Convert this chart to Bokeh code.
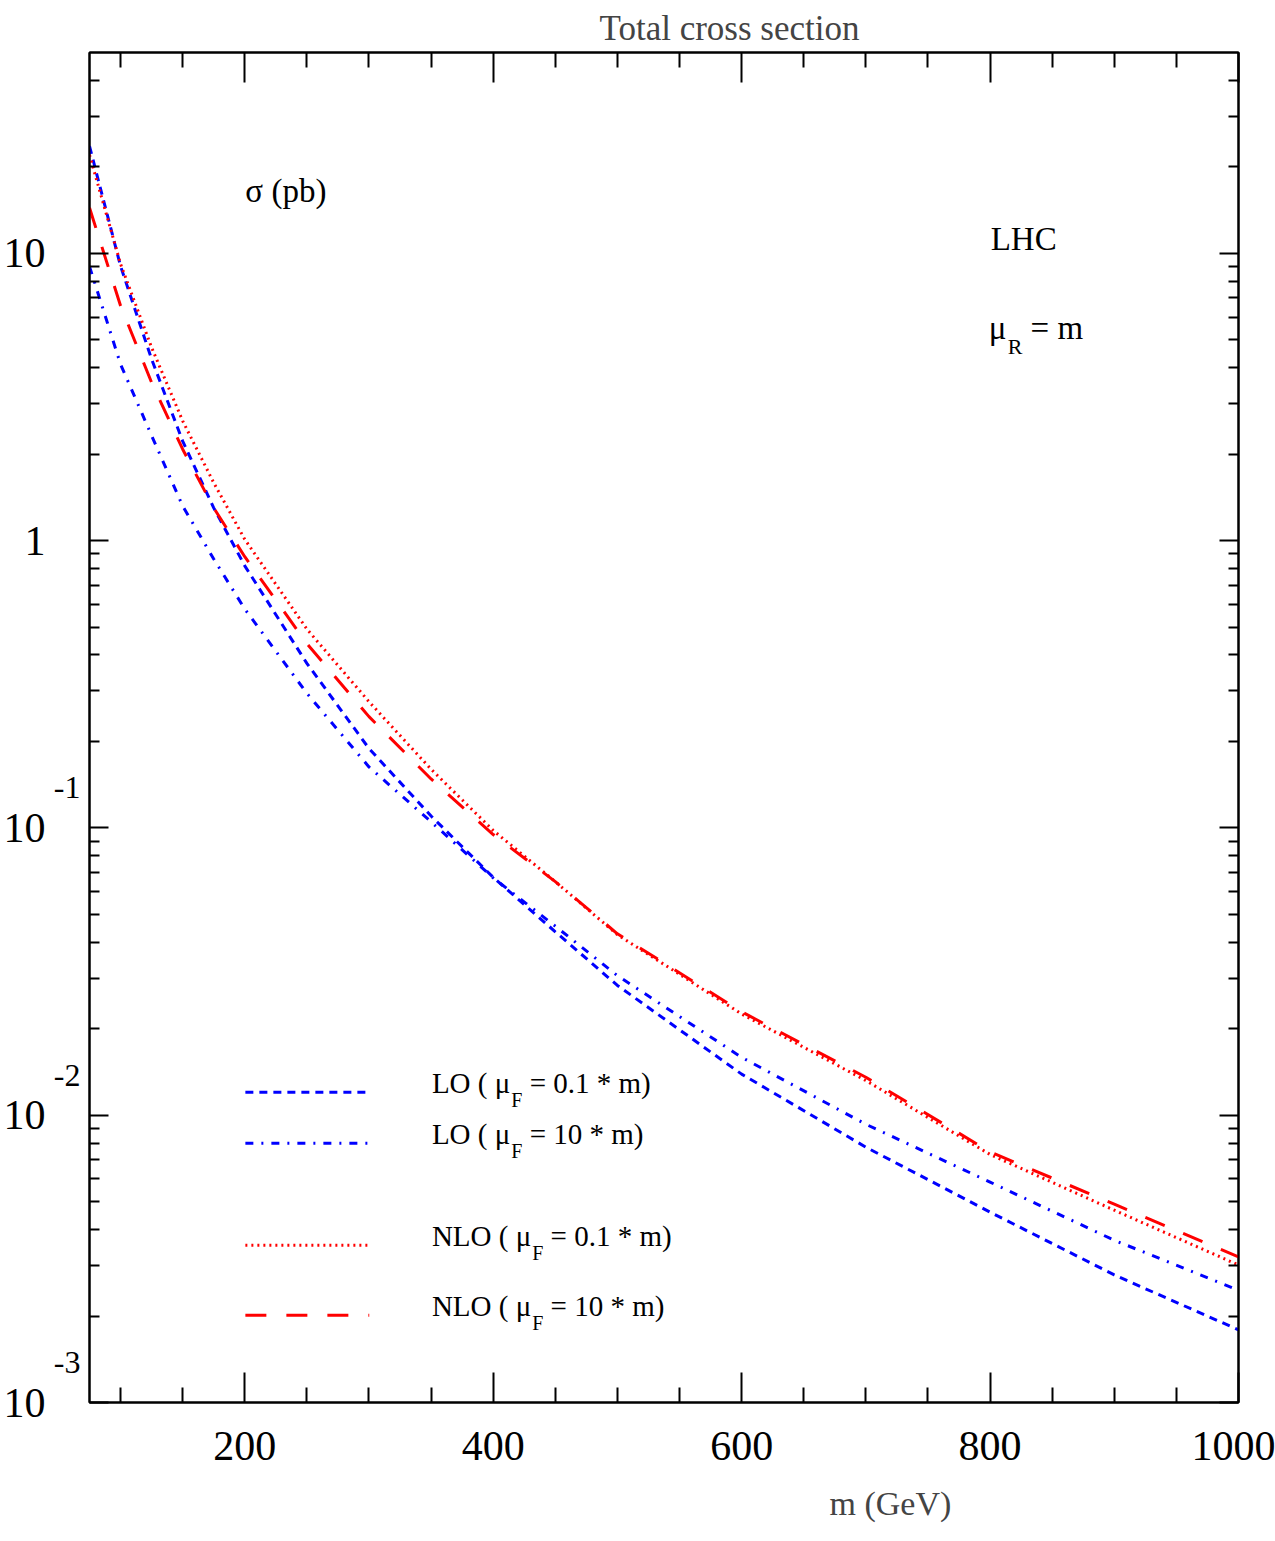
import math
from bokeh.plotting import figure
from bokeh.models import LinearAxis, LogAxis, FixedTicker, Label, Range1d, Title
from bokeh.embed import file_html
from bokeh.resources import INLINE

# ---------------- data ----------------
mass = [75, 100, 125, 150, 175, 200, 250, 300, 350, 400, 450, 500, 600, 700, 800, 900, 1000]
lo_mu01 = [23.6, 9.03, 4.28, 2.22, 1.30, 0.817, 0.374, 0.189, 0.110, 0.0673, 0.0435, 0.0283,
           0.0139, 0.00774, 0.0046, 0.00278, 0.00179]
lo_mu10 = [9.0, 4.11, 2.32, 1.32, 0.863, 0.578, 0.294, 0.163, 0.105, 0.067, 0.0455, 0.0306,
           0.0159, 0.0093, 0.00585, 0.00367, 0.00246]
nlo_mu01 = [22.0, 9.18, 4.70, 2.61, 1.59, 1.01, 0.492, 0.275, 0.160, 0.098, 0.065, 0.0425,
            0.0225, 0.0132, 0.0073, 0.00467, 0.00301]
nlo_mu10 = [14.4, 6.57, 3.55, 2.08, 1.30, 0.879, 0.438, 0.244, 0.148, 0.0948, 0.065, 0.0428,
            0.0229, 0.01355, 0.00745, 0.0049, 0.00321]

x_ticks = [200, 400, 600, 800, 1000]
x_minor_ticks = [100, 150, 250, 300, 350, 450, 500, 550, 650, 700, 750, 850, 900, 950]
y_ticks = [1e-3, 1e-2, 1e-1, 1, 10]
y_tick_base = ["10", "10", "10", "1", "10"]
y_tick_exp = ["-3", "-2", "-1", "", ""]
y_minor_mult = [2, 3, 4, 5, 6, 7, 8, 9]

legend_prefix = ["LO ( μ", "LO ( μ", "NLO ( μ", "NLO ( μ"]
legend_sub = ["F", "F", "F", "F"]
legend_suffix = ["= 0.1 * m)", "= 10 * m)", "= 0.1 * m)", "= 10 * m)"]

# ---------------- layout ----------------
X0, X1 = 75, 1000
Y0, Y1 = 1e-3, 50
W, H = 1275, 1541
BL, BR, BT, BB = 88, 37, 52, 139
FW = W - BL - BR
FH = H - BT - BB
FONT = "Liberation Serif"
DEC_PX = FH / (math.log10(Y1) - math.log10(Y0))
RAISE = 0.33  # labels sit about a third of the font size low; compensate

def fx(sx):
    return X0 + sx / FW * (X1 - X0)

def fy(sy):
    return 10 ** (math.log10(Y0) + sy / FH * (math.log10(Y1) - math.log10(Y0)))

ADV = {" ": 250, "(": 333, ")": 333, "*": 500, ".": 250, "=": 564, "F": 556, "L": 611,
       "N": 722, "O": 722, "R": 667, "μ": 576, "m": 778}

def tw(s, size):
    return sum(ADV.get(c, 500) for c in s) * size / 1000.0

def text(sx, sy, s, size):
    # sx, sy: baseline-left position in frame pixels (from left / from bottom)
    return Label(x=fx(sx), y=fy(sy + RAISE * size), text=s, text_font=FONT,
                 text_font_size=f"{size}px", text_align="left", text_baseline="alphabetic",
                 text_color="black")

p = figure(width=W, height=H, x_range=Range1d(X0, X1), y_range=Range1d(Y0, Y1),
           y_axis_type="log", output_backend="svg", toolbar_location=None,
           min_border_left=BL, min_border_right=BR, min_border_top=BT, min_border_bottom=BB,
           background_fill_color="white", border_fill_color="white")
p.grid.visible = False
p.outline_line_color = "black"
p.outline_line_width = 2

# title
p.title.text = "Total cross section"
p.title.text_font = FONT
p.title.text_font_size = "35px"
p.title.text_font_style = "normal"
p.title.align = "left"
p.title.offset = 510
p.title.standoff = 9

y_minor = [d * m for d in [1e-3, 1e-2, 1e-1, 1, 10] for m in y_minor_mult if d * m < Y1]

def style_axis(ax, major_in, minor_in, labels):
    ax.axis_line_width = 2
    ax.axis_line_color = "black"
    ax.major_tick_in = major_in
    ax.major_tick_out = 0
    ax.minor_tick_in = minor_in
    ax.minor_tick_out = 0
    ax.major_tick_line_width = 2
    ax.minor_tick_line_width = 2
    ax.major_tick_line_color = "black"
    ax.minor_tick_line_color = "black"
    if labels:
        ax.major_label_text_font = FONT
        ax.major_label_text_font_size = "42px"
        ax.major_label_text_color = "black"
        ax.major_label_standoff = 29
    else:
        ax.major_label_text_font_size = "1px"
        ax.major_label_text_color = None
        ax.major_label_standoff = 0

xt = FixedTicker(ticks=x_ticks, minor_ticks=x_minor_ticks)
yt = FixedTicker(ticks=y_ticks, minor_ticks=y_minor)

bx = p.xaxis[0]
bx.ticker = xt
style_axis(bx, 30, 15, True)
ly = p.yaxis[0]
ly.ticker = yt
style_axis(ly, 19, 10, False)

tx = LinearAxis(ticker=xt)
style_axis(tx, 30, 15, False)
p.add_layout(tx, "above")
ry = LogAxis(ticker=yt)
style_axis(ry, 19, 10, False)
p.add_layout(ry, "right")

# y tick labels: exponent axis (inner) and base axis (outer)
EXP_SHIFT = 10 ** (40 / DEC_PX)
exp_vals = [v * EXP_SHIFT for v, e in zip(y_ticks, y_tick_exp) if e]
exp_txt = [e for e in y_tick_exp if e]

def label_axis(ticks, texts, size, standoff):
    ax = LogAxis(ticker=FixedTicker(ticks=ticks, minor_ticks=[]),
                 major_label_overrides={t: s for t, s in zip(ticks, texts)})
    ax.axis_line_color = None
    ax.major_tick_line_color = None
    ax.minor_tick_line_color = None
    ax.major_tick_in = 0
    ax.major_tick_out = 0
    ax.minor_tick_in = 0
    ax.minor_tick_out = 0
    ax.major_label_text_font = FONT
    ax.major_label_text_font_size = size
    ax.major_label_text_color = "black"
    ax.major_label_standoff = standoff
    return ax

p.add_layout(label_axis(exp_vals, exp_txt, "32px", 9), "left")
p.add_layout(label_axis(y_ticks, y_tick_base, "42px", 5), "left")

# x axis title (placed to the right like the reference)
p.add_layout(Title(text="m (GeV)", align="left", offset=740, text_font=FONT,
                   text_font_size="34px", text_font_style="normal", standoff=40), "below")

# ---------------- curves ----------------
LW = 3
DASH_LO01 = "8 6"
DASH_LO10 = "8 8 2 8"
DASH_NLO01 = "2 4"
DASH_NLO10 = "21 20"
p.line(mass, lo_mu01, line_color="#0000ff", line_width=LW, line_dash=DASH_LO01)
p.line(mass, lo_mu10, line_color="#0000ff", line_width=LW, line_dash=DASH_LO10)
p.line(mass, nlo_mu01, line_color="#ff0000", line_width=LW, line_dash=DASH_NLO01)
p.line(mass, nlo_mu10, line_color="#ff0000", line_width=LW, line_dash=DASH_NLO10)

# ---------------- legend ----------------
leg_styles = [("#0000ff", DASH_LO01), ("#0000ff", DASH_LO10), ("#ff0000", DASH_NLO01), ("#ff0000", DASH_NLO10)]
leg_sy = [310.3, 259.3, 157.3, 87.3]
LEG_X0, LEG_X1, LEG_TX = 156, 280, 342.7
LS, SS = 29, 20
for i in range(4):
    col, dash = leg_styles[i]
    yy = fy(leg_sy[i])
    p.line([fx(LEG_X0), fx(LEG_X1)], [yy, yy], line_color=col, line_width=LW, line_dash=dash)
    x = LEG_TX
    p.add_layout(text(x, leg_sy[i], legend_prefix[i], LS))
    x += tw(legend_prefix[i], LS)
    p.add_layout(text(x, leg_sy[i] - 11.5 - RAISE * (LS - SS), legend_sub[i], SS))
    x += tw(legend_sub[i], SS) + tw(" ", LS)
    p.add_layout(text(x, leg_sy[i], legend_suffix[i], LS))

# ---------------- other texts ----------------
p.add_layout(text(156, 1201, "σ  (pb)", 33))
p.add_layout(text(902, 1153, "LHC", 33))
mx = 900
p.add_layout(text(mx, 1064, "μ", 33))
mx += tw("μ", 33)
p.add_layout(text(mx, 1052 - RAISE * (33 - 22), "R", 22))
mx += tw("R", 22) + tw(" ", 33)
p.add_layout(text(mx, 1064, "= m", 33))

open("out.html", "w").write(file_html(p, INLINE))
